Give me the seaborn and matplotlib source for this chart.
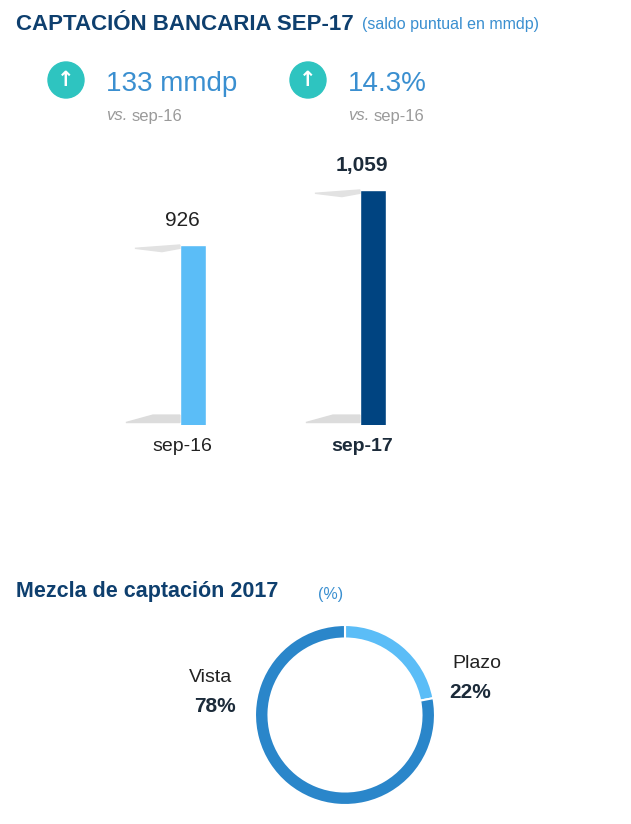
import matplotlib
matplotlib.use("Agg")
import matplotlib.pyplot as plt
import seaborn as sns
import pandas as pd
from matplotlib.patches import Polygon, Ellipse

# data
periods = ["sep-16", "sep-17"]
balances = [926, 1059]
bar_colors = ["#5BBDF7", "#004481"]
mix_labels = ["Plazo", "Vista"]
mix_values = [22, 78]
mix_colors = ["#5BBDF7", "#2A86CA"]

W, H = 631, 824
fig = plt.figure(figsize=(W / 100, H / 100), dpi=100)
sns.set_style("white")

def px(x, y):
    return x / W, 1 - y / H

NAVY = "#0E3F6E"
BLUE = "#3A8FD0"
GREY = "#9A9A9A"
FONT = "Liberation Sans"

# header
fig.text(*px(16, 24), "CAPTACIÓN BANCARIA SEP-17", fontsize=16, fontweight="bold",
         color=NAVY, va="center", family=FONT)
fig.text(*px(362, 24), "(saldo puntual en mmdp)", fontsize=11.5, color=BLUE, va="center",
         family=FONT)

for cx, big, bx in [(66, "133 mmdp", 106), (308, "14.3%", 348)]:
    fig.patches.append(Ellipse(px(cx, 80), 36 / W, 36 / H, transform=fig.transFigure,
                               color="#2EC4C0", zorder=3))
    fig.text(*px(cx, 80), "↑", fontsize=15, fontweight="bold", color="white",
             ha="center", va="center", zorder=4)
    fig.text(*px(bx, 84), big, fontsize=20, color=BLUE, va="center", family=FONT)
for vx in (106, 348):
    fig.text(*px(vx, 116), "vs.", fontsize=12, color=GREY, style="italic", va="center",
             family=FONT)
    fig.text(*px(vx + 26, 116), "sep-16", fontsize=12, color=GREY, va="center", family=FONT)

# bar chart
x0, y0 = px(103, 425)
x1, y1 = px(463, 173)
ax = fig.add_axes([x0, y0, x1 - x0, y1 - y0])
df = pd.DataFrame({"period": periods, "balance": balances})
sns.barplot(data=df, x="period", y="balance", hue="period", palette=bar_colors,
            width=0.145, ax=ax, legend=False, saturation=1)
ax.set_ylim(491, 1100)
ax.set_xlim(-0.5, 1.5)
ax.axis("off")
for i, (p, v) in enumerate(zip(ax.patches, balances)):
    left = p.get_x()
    w = p.get_width()
    # 3d-ish shading: top cap and floor shadow
    ax.add_patch(Polygon([(left, v), (left - 0.25, v - 8), (left - 0.1, v - 16), (left, v - 8)],
                         closed=True, color="#E2E2E2", zorder=1, clip_on=False))
    ax.add_patch(Polygon([(left, 497), (left - 0.3, 497), (left - 0.15, 515), (left, 515)],
                         closed=True, color="#DCDCDC", zorder=1, clip_on=False))
    bold = i == 1
    ax.text(left + w / 2 - 0.06, v + 60, f"{v:,}", ha="center", va="center",
            fontsize=15, fontweight="bold" if bold else "normal",
            color="#1C2B3A" if bold else "#222222", clip_on=False, family=FONT)
    ax.text(left + w / 2 - 0.06, 440, periods[i], ha="center", va="center",
            fontsize=14, fontweight="bold" if bold else "normal",
            color="#1C2B3A" if bold else "#222222", clip_on=False, family=FONT)

# donut
fig.text(*px(16, 592), "Mezcla de captación 2017", fontsize=15.5, fontweight="bold",
         color=NAVY, va="center", family=FONT)
fig.text(*px(318, 594), "(%)", fontsize=11.5, color=BLUE, va="center", family=FONT)

size = 225
d0x, d0y = px(345 - size / 2, 715 + size / 2)
ax2 = fig.add_axes([d0x, d0y, size / W, size / H])
ax2.pie(mix_values, colors=mix_colors, startangle=90, counterclock=False,
        wedgeprops=dict(width=0.15, edgecolor="white", linewidth=1.5))
ax2.set_aspect("equal")

fig.text(*px(477, 664), mix_labels[0], fontsize=14, color="#222222", ha="center",
         va="center", family=FONT)
fig.text(*px(470, 692), f"{mix_values[0]}%", fontsize=15, fontweight="bold", color="#1C2B3A",
         ha="center", va="center", family=FONT)
fig.text(*px(211, 678), mix_labels[1], fontsize=14, color="#222222", ha="center",
         va="center", family=FONT)
fig.text(*px(215, 706), f"{mix_values[1]}%", fontsize=15, fontweight="bold", color="#1C2B3A",
         ha="center", va="center", family=FONT)

fig.savefig("out.png", dpi=100)
